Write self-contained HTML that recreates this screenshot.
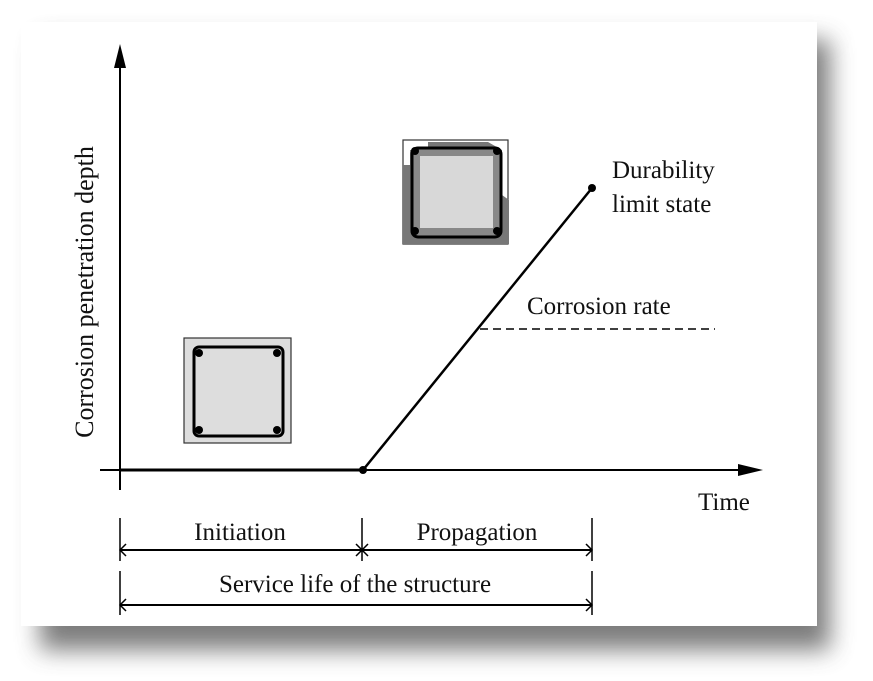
<!DOCTYPE html>
<html><head><style>
body{margin:0;background:#fff;width:873px;height:681px;overflow:hidden}
svg{display:block}
text{font-family:"Liberation Serif",serif;fill:#111}
</style></head><body>
<svg width="873" height="681" viewBox="0 0 873 681">
<defs>
<filter id="sh" x="-10%" y="-10%" width="130%" height="130%"><feGaussianBlur stdDeviation="12"/></filter>
</defs>
<rect x="40" y="40" width="790" height="610" fill="#666" filter="url(#sh)" opacity="0.85"/>
<rect x="21" y="22" width="796" height="604" fill="#fff"/>
<line x1="120" y1="490" x2="120" y2="55" stroke="#000" stroke-width="2"/>
<polygon points="120,44 114,68 126,68" fill="#000"/>
<line x1="100" y1="470" x2="750" y2="470" stroke="#000" stroke-width="2"/>
<polygon points="763,470 738,464 738,476" fill="#000"/>
<line x1="120" y1="470" x2="363" y2="470" stroke="#000" stroke-width="3"/>
<line x1="363" y1="470" x2="592" y2="188" stroke="#000" stroke-width="2.5"/>
<circle cx="363" cy="470" r="4" fill="#000"/>
<circle cx="592" cy="188" r="4" fill="#000"/>
<line x1="480" y1="329" x2="715" y2="329" stroke="#000" stroke-width="1.5" stroke-dasharray="8,5"/>
<text x="612" y="178" font-size="25">Durability</text>
<text x="612" y="212" font-size="25">limit state</text>
<text x="527" y="314" font-size="25">Corrosion rate</text>
<text x="698" y="510" font-size="25">Time</text>
<text transform="translate(93,292) rotate(-90)" font-size="26" text-anchor="middle">Corrosion penetration depth</text>
<rect x="184" y="338" width="107" height="105" fill="#ddd" stroke="#333" stroke-width="1.2"/>
<rect x="194" y="347" width="89" height="89" rx="5" fill="#ddd" stroke="#000" stroke-width="3"/>
<circle cx="199" cy="353" r="4" fill="#000"/><circle cx="277" cy="353" r="4" fill="#000"/>
<circle cx="199" cy="430" r="4" fill="#000"/><circle cx="277" cy="430" r="4" fill="#000"/>
<rect x="403" y="140" width="105" height="104" fill="#fff" stroke="#333" stroke-width="1.2"/>
<path d="M403,165 L403,244 L509,244 L509,200 L502,195 L502,150 L488,142 L428,142 L428,150 L410,150 L410,165 Z" fill="#777"/>
<rect x="412" y="148" width="89" height="89" rx="6" fill="#888" stroke="#000" stroke-width="3"/>
<rect x="420" y="156" width="73" height="72" fill="#d8d8d8"/>
<circle cx="415" cy="151" r="4" fill="#000"/><circle cx="497" cy="151" r="4" fill="#000"/>
<circle cx="415" cy="231" r="4" fill="#000"/><circle cx="497" cy="231" r="4" fill="#000"/>
<g stroke="#000" stroke-width="1.5">
<line x1="120" y1="518" x2="120" y2="561"/><line x1="362" y1="518" x2="362" y2="561"/><line x1="592" y1="518" x2="592" y2="561"/>
<line x1="120" y1="550" x2="592" y2="550" stroke-width="2"/>
<line x1="120" y1="571" x2="120" y2="615"/><line x1="592" y1="571" x2="592" y2="615"/>
<line x1="120" y1="605" x2="592" y2="605" stroke-width="2"/>
<path d="M126,544 L120,550 L126,556 M356,544 L362,550 L356,556 M368,544 L362,550 L368,556 M586,544 L592,550 L586,556 M126,599 L120,605 L126,611 M586,599 L592,605 L586,611" fill="none"/>
</g>
<text x="240" y="540" font-size="25" text-anchor="middle">Initiation</text>
<text x="477" y="540" font-size="25" text-anchor="middle">Propagation</text>
<text x="355" y="592" font-size="25" text-anchor="middle">Service life of the structure</text>
</svg>
</body></html>
